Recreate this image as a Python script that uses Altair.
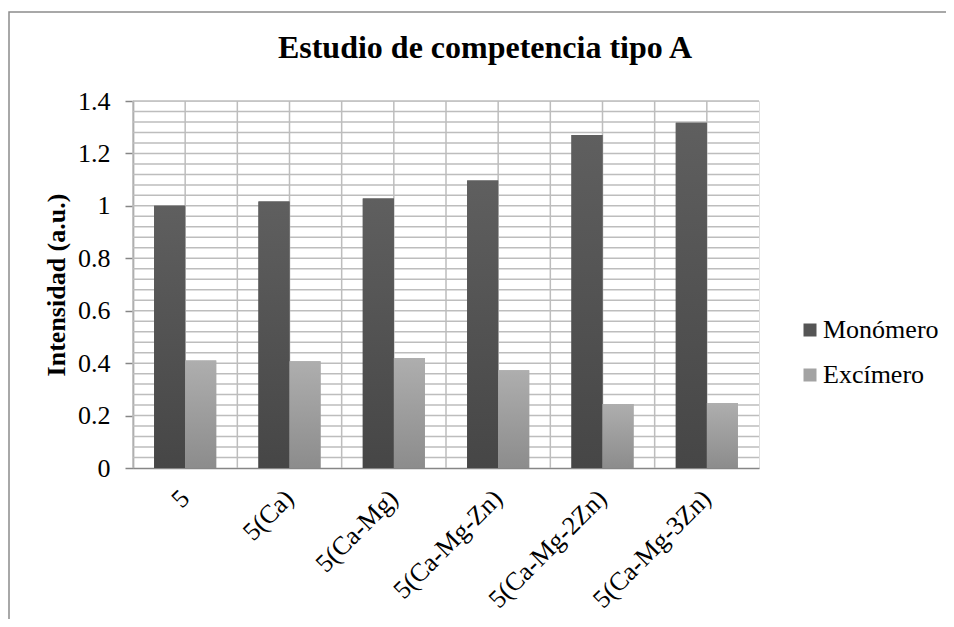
import altair as alt
import pandas as pd

# ---- data ----
categorias = ["5", "5(Ca)", "5(Ca-Mg)", "5(Ca-Mg-Zn)", "5(Ca-Mg-2Zn)", "5(Ca-Mg-3Zn)"]
monomero = [1.0, 1.017, 1.028, 1.097, 1.27, 1.317]
excimero = [0.41, 0.407, 0.42, 0.373, 0.244, 0.248]
series = ["Monómero", "Excímero"]
y_ticks = [0, 0.2, 0.4, 0.6, 0.8, 1, 1.2, 1.4]
minor_step = 0.04

rows = []
for c, m, e in zip(categorias, monomero, excimero):
    rows.append({"cat": c, "serie": series[0], "valor": m})
    rows.append({"cat": c, "serie": series[1], "valor": e})
df = pd.DataFrame(rows)
grid_df = pd.DataFrame({"g": [round(i * minor_step, 2) for i in range(1, 36)]})
cat_df = pd.DataFrame({"cat": categorias})
frame_df = pd.DataFrame({"k": [0]})

FONT = "Liberation Serif"
W, H = 626, 367
GRID = "#bdbdbd"
AXIS = "#868686"

xscale = alt.Scale(domain=categorias, paddingInner=0, paddingOuter=0)
yscale = alt.Scale(domain=[0, 1.4], nice=False, zero=True)

x_axis = alt.Axis(
    title=None, labelAngle=-45, labelAlign="right", labelBaseline="middle",
    labelFont=FONT, labelFontSize=26, labelColor="black", labelPadding=26,
    labelOffset=0, ticks=False, domainColor=AXIS, domainWidth=1.5, grid=False,
    labelLimit=300,
)
y_axis = alt.Axis(
    values=y_ticks, format="~g", grid=False, title="Intensidad (a.u.)",
    domainColor=AXIS, domainWidth=1.5, tickColor=AXIS, tickWidth=1.5, tickSize=8,
    labelFont=FONT, labelFontSize=26, labelColor="black", labelPadding=15,
    titleFont=FONT, titleFontSize=26, titleFontWeight="bold", titleColor="black",
    titleX=-77, titleY=H / 2, titleAlign="center", titleBaseline="middle", titleAngle=270,
)

frame = alt.Chart(frame_df).mark_rect(fillOpacity=0, stroke="#8c8c8c", strokeWidth=1.5).encode(
    x=alt.value(-124), x2=alt.value(W + 400), y=alt.value(-89), y2=alt.value(H + 400)
)

hgrid = alt.Chart(grid_df).mark_rule(color=GRID, strokeWidth=1.5).encode(
    y=alt.Y("g:Q", scale=yscale, axis=y_axis)
)
vgrid0 = alt.Chart(cat_df).mark_rule(color=GRID, strokeWidth=1.5).encode(
    x=alt.X("cat:N", scale=xscale, sort=categorias, bandPosition=0, axis=x_axis)
)
vgrid1 = alt.Chart(cat_df).mark_rule(color=GRID, strokeWidth=1.5).encode(
    x=alt.X("cat:N", scale=xscale, sort=categorias, bandPosition=0.5, axis=x_axis)
)

bar_base = alt.Chart(df).encode(
    x=alt.X("cat:N", scale=xscale, sort=categorias, axis=x_axis),
    xOffset=alt.XOffset(
        "serie:N", sort=series,
        scale=alt.Scale(domain=series, paddingOuter=0.68, paddingInner=0),
    ),
    y=alt.Y("valor:Q", scale=yscale, axis=y_axis),
)

bars_solid = bar_base.mark_bar().encode(
    color=alt.Color(
        "serie:N",
        scale=alt.Scale(domain=series, range=["#555555", "#a3a3a3"]),
        legend=alt.Legend(
            title=None, orient="none", legendX=664, legendY=216, symbolType="square",
            symbolSize=169, symbolStrokeWidth=0, labelFont=FONT, labelFontSize=26,
            labelColor="black", rowPadding=19, labelOffset=0, padding=0,
        ),
    )
)

grad_dark = alt.LinearGradient(
    gradient="linear",
    stops=[alt.GradientStop(offset=0, color="#5f5f5f"), alt.GradientStop(offset=1, color="#464646")],
    x1=0, x2=0, y1=0, y2=1,
)
grad_light = alt.LinearGradient(
    gradient="linear",
    stops=[alt.GradientStop(offset=0, color="#aeaeae"), alt.GradientStop(offset=1, color="#8c8c8c")],
    x1=0, x2=0, y1=0, y2=1,
)
bars_dark = bar_base.transform_filter(alt.datum.serie == series[0]).mark_bar(fill=grad_dark)
bars_light = bar_base.transform_filter(alt.datum.serie == series[1]).mark_bar(fill=grad_light)

chart = alt.layer(frame, hgrid, vgrid0, vgrid1, bars_solid, bars_dark, bars_light).properties(
    width=W,
    height=H,
    autosize="none",
    padding={"left": 125, "top": 93, "right": 187, "bottom": 151},
    title=alt.TitleParams(
        "Estudio de competencia tipo A", font=FONT, fontSize=32, fontWeight="bold",
        color="black", anchor="middle", dx=39, offset=-78.75, baseline="alphabetic",
    ),
).configure_view(stroke=GRID, strokeWidth=1.5).configure(background="white")

chart.save("out.html", embed_options={"renderer": "svg", "actions": False})
